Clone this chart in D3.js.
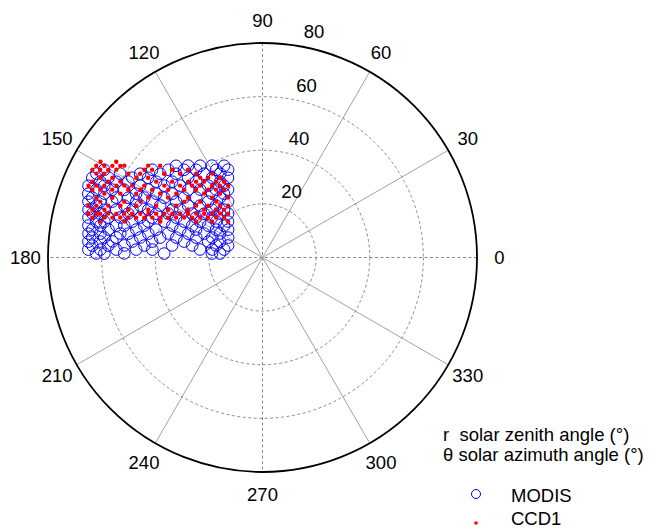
<!DOCTYPE html>
<html>
<head>
<meta charset="utf-8">
<script src="https://cdn.jsdelivr.net/npm/d3@7"></script>
<style>
  html, body { margin: 0; padding: 0; background: #fff; }
  svg { display: block; }
  text { font-family: "Liberation Sans", Arial, sans-serif; fill: #000; }
</style>
</head>
<body>
<svg id="chart" width="654" height="529"></svg>
<script>
// Polar axis settings
const rTicks = [20, 40, 60, 80];
const angleTicks = [0, 30, 60, 90, 120, 150, 180, 210, 240, 270, 300, 330];
const rMax = 80;

// MODIS observations: solar zenith (r) and solar azimuth (theta), degrees
const modisZenith = [
  47.0, 44.1, 41.4, 39.1, 37.1,
  67.5, 52.6, 48.0, 43.9, 41.0, 37.0, 35.2,
  69.4, 61.6, 55.3, 49.3, 44.9, 38.1, 35.0,
  70.1, 64.7, 57.0, 52.0, 40.7, 35.2, 32.4,
  66.8, 61.4, 57.5, 48.7, 44.0, 37.6, 32.4,
  70.2, 64.8, 52.9, 45.4, 40.8, 33.6, 30.4,
  66.9, 61.5, 57.4, 49.6, 37.5, 34.4, 30.7, 28.4,
  69.2, 63.6, 52.8, 46.2, 41.2, 30.3, 27.8,
  67.3, 58.9, 54.8, 49.4, 42.9, 36.8, 33.3, 27.4,
  68.2, 64.0, 59.8, 51.5, 46.1, 38.4, 29.1, 24.5,
  64.9, 55.0, 49.5, 42.8, 33.8, 30.3, 26.0,
  67.3, 61.6, 57.4, 51.7, 46.2, 38.1, 35.5, 25.9, 22.9,
  65.5, 62.7, 52.7, 42.9, 38.8, 30.9, 27.2, 22.8, 20.8,
  66.6, 59.4, 55.1, 48.0, 43.7, 35.5, 28.9, 24.0,
  63.4, 60.5, 50.4, 44.7, 39.0, 32.1, 26.8, 21.9, 18.6,
  66.0, 61.6, 55.8, 52.9, 45.7, 35.7, 28.8, 23.5, 18.6,
  64.3, 58.4, 48.2, 41.0, 32.4, 26.9, 20.2, 16.5,
  65.5, 61.1, 53.8, 50.8, 43.5, 36.3, 29.1, 23.5, 18.2,
  63.9, 59.5, 55.0, 46.2, 38.9, 33.0, 25.8, 20.2, 14.8,
  65.2, 60.8, 56.3, 48.9, 41.6, 29.8, 21.1, 16.9,
  63.6, 57.7, 51.7, 44.3, 34.0, 26.6, 17.9, 13.6,
  65.0, 60.5, 54.6, 47.2, 41.2, 23.5, 19.0, 14.6,
  62.0, 59.0, 51.6, 36.7, 18.9, 15.9
];
const modisAzimuth = [
  133.3, 129.0, 124.2, 118.8, 112.7,
  151.0, 141.5, 137.0, 131.8, 127.1, 117.9, 111.4,
  153.2, 149.5, 145.6, 140.7, 135.9, 124.9, 116.8,
  154.9, 152.6, 148.5, 145.1, 133.0, 122.3, 113.4,
  154.9, 152.6, 150.5, 144.5, 140.0, 131.2, 119.2,
  157.6, 155.6, 149.6, 143.8, 138.9, 127.1, 118.2,
  157.8, 155.7, 153.9, 149.3, 137.6, 132.6, 124.4, 116.9,
  159.9, 158.0, 153.2, 149.0, 144.7, 128.3, 121.1,
  160.6, 157.7, 156.0, 153.1, 148.7, 142.6, 137.9, 125.3,
  162.2, 161.0, 159.6, 156.1, 153.1, 147.1, 134.2, 121.6,
  162.7, 159.4, 157.0, 153.1, 145.1, 140.3, 131.8,
  164.6, 163.2, 161.9, 159.8, 157.3, 152.1, 149.8, 136.5, 128.8,
  165.5, 164.9, 161.9, 157.6, 155.0, 148.0, 143.1, 134.0, 128.1,
  167.1, 165.5, 164.3, 161.9, 160.1, 155.2, 149.0, 141.6,
  167.8, 167.2, 164.6, 162.5, 159.9, 155.4, 150.1, 142.2, 133.8,
  169.6, 168.9, 167.7, 167.0, 164.9, 160.5, 155.6, 149.6, 140.3,
  170.7, 169.7, 167.5, 165.3, 161.3, 157.2, 149.0, 141.0,
  172.2, 171.6, 170.4, 169.9, 168.2, 165.7, 162.2, 157.7, 150.5,
  173.3, 172.8, 172.2, 170.7, 169.0, 167.0, 163.3, 158.4, 149.9,
  174.8, 174.4, 173.9, 173.0, 171.8, 168.5, 163.7, 159.4,
  176.0, 175.6, 175.0, 174.2, 172.4, 170.3, 165.5, 160.8,
  177.4, 177.2, 176.9, 176.4, 175.9, 172.7, 171.0, 168.3,
  178.6, 178.6, 178.3, 177.7, 175.5, 174.6
];

// CCD1 observations: solar zenith (r) and solar azimuth (theta), degrees
const ccdZenith = [
  70.2, 65.2,
  70.8, 68.2, 65.6, 63.1, 61.9, 54.7, 51.3,
  71.4, 68.8, 66.2, 63.6, 54.9, 52.6, 47.0, 42.9,
  69.4, 66.8, 59.0, 55.3, 48.2, 43.8, 39.9, 36.5,
  67.4, 63.4, 55.7, 52.0, 37.8, 36.0, 33.7,
  69.5, 64.1, 60.1, 48.7, 44.0, 39.6, 37.6, 35.7, 33.2, 31.7,
  70.2, 67.5, 64.8, 60.7, 58.1, 55.5, 51.6, 45.4, 40.8, 37.5, 35.5, 32.7, 31.1, 29.7,
  68.3, 65.6, 61.5, 56.1, 52.1, 48.3, 43.3, 38.6, 35.4, 32.4, 30.7, 29.1,
  63.6, 58.1, 52.8, 45.0, 40.0, 32.3, 28.6,
  65.9, 60.3, 48.1, 41.7, 35.6, 29.2, 25.8,
  64.0, 55.6, 50.1, 35.9, 31.2, 27.1,
  67.8, 64.9, 60.7, 56.4, 50.9, 44.1, 37.6, 31.4, 28.0, 25.0, 23.2,
  65.9, 61.6, 53.1, 46.2, 39.4, 33.0, 28.2, 24.9, 22.9,
  67.0, 64.1, 62.7, 59.8, 56.9, 54.1, 51.3, 48.4, 45.6, 42.9, 40.1, 37.4, 34.8, 32.2, 29.7, 27.2, 24.9, 22.8, 20.8,
  65.2, 60.8, 57.9, 55.1, 52.2, 49.4, 46.5, 43.7, 40.9, 38.2, 35.5, 32.8, 30.2, 27.6, 25.2, 22.8, 20.7,
  61.9, 53.2, 40.4, 28.1, 23.1, 18.6
];
const ccdAzimuth = [
  149.4, 146.8,
  151.1, 149.9, 148.6, 147.2, 146.4, 141.2, 138.1,
  152.7, 151.6, 150.4, 149.0, 143.4, 141.5, 135.8, 130.3,
  153.2, 152.1, 148.0, 145.6, 139.6, 134.5, 128.4, 121.0,
  153.8, 152.0, 147.7, 145.1, 128.0, 124.3, 118.0,
  156.0, 153.8, 151.9, 144.5, 140.0, 134.4, 131.2, 127.6, 121.5, 116.9,
  157.6, 156.6, 155.6, 153.8, 152.5, 151.1, 148.7, 143.8, 138.9, 134.4, 131.0, 125.1, 120.6, 115.6,
  158.3, 157.3, 155.7, 153.2, 151.0, 148.4, 144.3, 139.1, 134.4, 128.8, 124.4, 119.5,
  158.0, 155.8, 153.2, 148.0, 143.5, 132.4, 123.6,
  160.2, 158.3, 152.3, 147.6, 141.2, 130.1, 119.9,
  161.0, 158.0, 155.4, 144.5, 138.1, 129.7,
  163.4, 162.7, 161.4, 160.0, 157.7, 154.0, 149.0, 142.0, 136.4, 129.3, 123.6,
  164.3, 163.2, 160.4, 157.3, 153.1, 147.2, 140.7, 134.1, 128.8,
  165.9, 165.2, 164.9, 164.1, 163.3, 162.4, 161.4, 160.3, 159.0, 157.6, 155.9, 154.1, 151.9, 149.5, 146.5, 143.1, 139.0, 134.0, 128.1,
  166.8, 165.8, 165.1, 164.3, 163.4, 162.5, 161.4, 160.1, 158.7, 157.1, 155.2, 153.0, 150.5, 147.4, 143.7, 139.3, 134.0,
  167.5, 165.4, 160.6, 151.6, 144.5, 133.8
];

const legendLabels = ["MODIS", "CCD1"];
const noteLines = ["r  solar zenith angle (°)", "θ solar azimuth angle (°)"];

const svg = d3.select("#chart");
const cx = 262.5, cy = 257.5, R = 214.5;

const rScale = d3.scaleLinear().domain([0, rMax]).range([0, R]);
// azimuth measured counter-clockwise from the +x direction
const aScale = d3.scaleLinear().domain([0, 360]).range([Math.PI / 2, Math.PI / 2 - 2 * Math.PI]);
const pt = (theta, r) => d3.pointRadial(aScale(theta), rScale(r));

const g = svg.append("g").attr("transform", `translate(${cx},${cy})`);

// spokes every 30 degrees
[0, 30, 60, 90, 120, 150].forEach(a => {
  const p1 = pt(a, rMax), p2 = pt(a + 180, rMax);
  const axial = a % 90 === 0;
  g.append("line")
    .attr("x1", p1[0]).attr("y1", p1[1])
    .attr("x2", p2[0]).attr("y2", p2[1])
    .attr("stroke", axial ? "#8c8c8c" : "#a2a2a2")
    .attr("stroke-width", 1)
    .attr("stroke-dasharray", axial ? "3,2.5" : null);
});

// range rings
rTicks.filter(t => t < rMax).forEach(t => {
  g.append("circle")
    .attr("r", rScale(t))
    .attr("fill", "none")
    .attr("stroke", "#8c8c8c")
    .attr("stroke-width", 1)
    .attr("stroke-dasharray", "3,2.5");
});
g.append("circle")
  .attr("r", rScale(rMax))
  .attr("fill", "none")
  .attr("stroke", "#000")
  .attr("stroke-width", 1.8);

// angle labels
angleTicks.forEach(a => {
  const p = pt(a, rMax * 1.105);
  g.append("text")
    .attr("x", p[0]).attr("y", p[1])
    .attr("dy", "0.35em")
    .attr("text-anchor", "middle")
    .attr("font-size", 18.5)
    .text(a);
});

// radius labels along 82 degrees
rTicks.forEach(t => {
  const p = pt(82, t + 1);
  g.append("text")
    .attr("x", p[0] + 11).attr("y", p[1] - 4)
    .attr("font-size", 18.5)
    .text(t);
});

// MODIS circles
const modis = modisZenith.map((z, i) => ({ z, a: modisAzimuth[i] }));
g.append("g").selectAll("circle").data(modis).join("circle")
  .attr("cx", d => pt(d.a, d.z)[0])
  .attr("cy", d => pt(d.a, d.z)[1])
  .attr("r", 5.8)
  .attr("fill", "none")
  .attr("stroke", "#0000ff")
  .attr("stroke-width", 1);

// CCD1 dots
const ccd = ccdZenith.map((z, i) => ({ z, a: ccdAzimuth[i] }));
g.append("g").selectAll("circle").data(ccd).join("circle")
  .attr("cx", d => pt(d.a, d.z)[0])
  .attr("cy", d => pt(d.a, d.z)[1])
  .attr("r", 2.2)
  .attr("fill", "#ff0000");

// axis description
noteLines.forEach((s, i) => {
  svg.append("text")
    .attr("x", 443).attr("y", 441 + i * 20)
    .attr("font-size", 18.5)
    .attr("xml:space", "preserve")
    .style("white-space", "pre")
    .text(s);
});

// legend
const leg = svg.append("g");
leg.append("circle").attr("cx", 476).attr("cy", 494).attr("r", 4.5)
  .attr("fill", "none").attr("stroke", "#0000ff").attr("stroke-width", 1);
leg.append("circle").attr("cx", 476).attr("cy", 523).attr("r", 1.8)
  .attr("fill", "#ff0000");
legendLabels.forEach((s, i) => {
  leg.append("text")
    .attr("x", 511).attr("y", 501.5 + i * 23.5)
    .attr("font-size", 18.5)
    .text(s);
});
</script>
</body>
</html>
